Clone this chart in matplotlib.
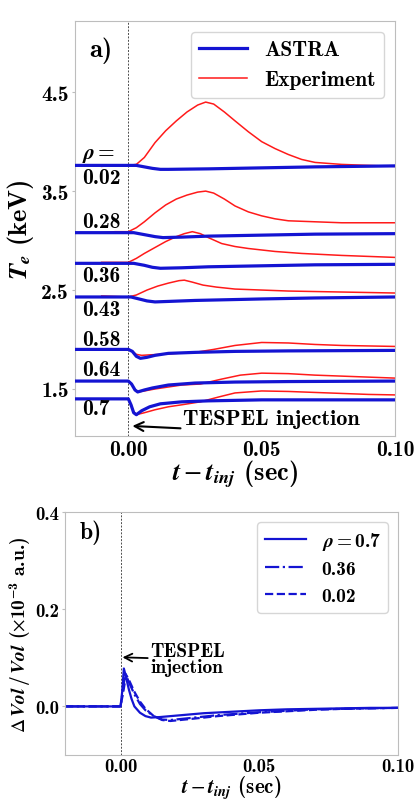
import matplotlib
matplotlib.use("Agg")
import matplotlib.pyplot as plt

plt.rcParams['font.family'] = ['cmb10', 'DejaVu Serif']
plt.rcParams['mathtext.fontset'] = 'custom'
plt.rcParams['mathtext.rm'] = 'cmb10'
plt.rcParams['mathtext.bf'] = 'cmb10'
plt.rcParams['mathtext.it'] = 'STIXGeneral:italic:bold'
plt.rcParams['mathtext.fallback'] = 'stix'
plt.rcParams['axes.unicode_minus'] = False

# ---------------- panel a) data ----------------
rho_labels = ["0.02", "0.28", "0.36", "0.43", "0.58", "0.64", "0.7"]

astra_t = {
    "0.02": [-0.02, 0.0, 0.003, 0.006, 0.009, 0.012, 0.015, 0.03, 0.05, 0.07, 0.1],
    "0.28": [-0.02, 0.0, 0.002, 0.006, 0.010, 0.013, 0.02, 0.03, 0.05, 0.07, 0.1],
    "0.36": [-0.02, 0.0, 0.002, 0.006, 0.009, 0.012, 0.02, 0.03, 0.05, 0.07, 0.1],
    "0.43": [-0.02, 0.0, 0.001, 0.004, 0.007, 0.010, 0.015, 0.025, 0.05, 0.07, 0.1],
    "0.58": [-0.02, 0.0, 0.0015, 0.003, 0.0045, 0.007, 0.010, 0.015, 0.025, 0.04, 0.06, 0.1],
    "0.64": [-0.02, 0.0, 0.0012, 0.0025, 0.0035, 0.006, 0.009, 0.015, 0.025, 0.04, 0.06, 0.1],
    "0.7":  [-0.02, 0.0, 0.001, 0.002, 0.003, 0.005, 0.008, 0.012, 0.02, 0.03, 0.05, 0.1],
}
astra_te = {
    "0.02": [3.76, 3.76, 3.76, 3.745, 3.73, 3.72, 3.72, 3.725, 3.735, 3.745, 3.755],
    "0.28": [3.08, 3.08, 3.08, 3.06, 3.04, 3.03, 3.035, 3.045, 3.055, 3.065, 3.07],
    "0.36": [2.77, 2.77, 2.77, 2.75, 2.73, 2.72, 2.725, 2.735, 2.745, 2.755, 2.76],
    "0.43": [2.43, 2.43, 2.43, 2.41, 2.39, 2.38, 2.385, 2.395, 2.41, 2.42, 2.43],
    "0.58": [1.90, 1.90, 1.88, 1.83, 1.81, 1.82, 1.84, 1.86, 1.87, 1.88, 1.885, 1.89],
    "0.64": [1.58, 1.58, 1.55, 1.49, 1.47, 1.49, 1.51, 1.54, 1.56, 1.57, 1.575, 1.58],
    "0.7":  [1.40, 1.40, 1.34, 1.26, 1.24, 1.28, 1.32, 1.35, 1.37, 1.38, 1.39, 1.39],
}

exp_t = {
    "0.02": [-0.01, -0.005, 0.0, 0.003, 0.006, 0.010, 0.014, 0.018, 0.022, 0.026, 0.029,
             0.032, 0.036, 0.040, 0.045, 0.050, 0.055, 0.060, 0.065, 0.070, 0.080, 0.090, 0.100],
    "0.28": [-0.01, -0.005, 0.0, 0.003, 0.006, 0.010, 0.014, 0.018, 0.022, 0.026, 0.029,
             0.032, 0.036, 0.040, 0.045, 0.050, 0.055, 0.060, 0.070, 0.080, 0.090, 0.100],
    "0.36": [-0.01, 0.0, 0.003, 0.006, 0.010, 0.014, 0.018, 0.021, 0.024, 0.027, 0.030,
             0.035, 0.040, 0.045, 0.055, 0.065, 0.080, 0.100],
    "0.43": [-0.01, 0.0, 0.003, 0.007, 0.011, 0.015, 0.019, 0.021, 0.024, 0.028, 0.033,
             0.040, 0.050, 0.060, 0.080, 0.100],
    "0.58": [-0.01, 0.0, 0.0015, 0.003, 0.005, 0.008, 0.012, 0.018, 0.025, 0.032, 0.040,
             0.050, 0.060, 0.070, 0.080, 0.090, 0.100],
    "0.64": [-0.01, 0.0, 0.0012, 0.0025, 0.0035, 0.006, 0.010, 0.015, 0.020, 0.027, 0.035,
             0.042, 0.050, 0.060, 0.070, 0.080, 0.090, 0.100],
    "0.7":  [-0.01, 0.0, 0.001, 0.002, 0.003, 0.006, 0.010, 0.015, 0.020, 0.027, 0.034,
             0.040, 0.050, 0.060, 0.070, 0.080, 0.090, 0.100],
}
exp_te = {
    "0.02": [3.75, 3.76, 3.76, 3.77, 3.84, 3.99, 4.11, 4.21, 4.30, 4.37, 4.40,
             4.38, 4.30, 4.21, 4.10, 4.00, 3.93, 3.87, 3.82, 3.79, 3.77, 3.76, 3.75],
    "0.28": [3.08, 3.09, 3.09, 3.13, 3.19, 3.28, 3.36, 3.42, 3.46, 3.49, 3.50,
             3.48, 3.42, 3.35, 3.29, 3.25, 3.22, 3.20, 3.19, 3.18, 3.18, 3.18],
    "0.36": [2.78, 2.78, 2.82, 2.87, 2.93, 2.99, 3.04, 3.07, 3.09, 3.07, 3.03,
             2.97, 2.94, 2.92, 2.89, 2.87, 2.85, 2.83],
    "0.43": [2.44, 2.43, 2.45, 2.50, 2.54, 2.57, 2.595, 2.60, 2.58, 2.55, 2.53,
             2.51, 2.50, 2.49, 2.48, 2.47],
    "0.58": [1.90, 1.90, 1.88, 1.85, 1.84, 1.845, 1.85, 1.86, 1.87, 1.90, 1.94,
             1.97, 1.965, 1.95, 1.94, 1.935, 1.93],
    "0.64": [1.58, 1.58, 1.55, 1.49, 1.47, 1.48, 1.50, 1.52, 1.54, 1.55, 1.60,
             1.64, 1.66, 1.655, 1.64, 1.63, 1.62, 1.61],
    "0.7":  [1.40, 1.40, 1.34, 1.27, 1.24, 1.26, 1.29, 1.32, 1.34, 1.37, 1.42,
             1.46, 1.48, 1.475, 1.465, 1.455, 1.445, 1.44],
}

# rho annotations (text, Te position)
label_text = ["$\\rho=$", "0.02", "0.28", "0.36", "0.43", "0.58", "0.64", "0.7"]
label_te = [3.87, 3.64, 3.19, 2.65, 2.30, 2.00, 1.695, 1.30]

# ---------------- panel b) data ----------------
vol_labels = ["$\\rho=0.7$", "0.36", "0.02"]
vol_styles = ["-", "-.", "--"]
vol_t = [
    [-0.02, 0.0, 0.0006, 0.0012, 0.002, 0.003, 0.004, 0.005, 0.007, 0.009, 0.011, 0.014,
     0.02, 0.03, 0.04, 0.05, 0.06, 0.07, 0.08, 0.09, 0.1],
    [-0.02, 0.0, 0.0008, 0.0017, 0.003, 0.005, 0.007, 0.009, 0.012, 0.015, 0.018, 0.025,
     0.035, 0.05, 0.06, 0.07, 0.08, 0.1],
    [-0.02, 0.0, 0.001, 0.002, 0.003, 0.005, 0.007, 0.009, 0.012, 0.015, 0.018, 0.025,
     0.035, 0.05, 0.06, 0.07, 0.08, 0.1],
]
vol_v = [
    [0.0, 0.0, 0.03, 0.078, 0.06, 0.035, 0.015, 0.0, -0.013, -0.02, -0.023, -0.022,
     -0.019, -0.014, -0.011, -0.008, -0.006, -0.005, -0.004, -0.003, -0.003],
    [0.0, 0.0, 0.03, 0.068, 0.05, 0.025, 0.005, -0.008, -0.02, -0.027, -0.028, -0.024,
     -0.018, -0.012, -0.009, -0.006, -0.005, -0.003],
    [0.0, 0.0, 0.03, 0.065, 0.055, 0.03, 0.01, -0.005, -0.02, -0.028, -0.03, -0.026,
     -0.02, -0.013, -0.01, -0.007, -0.005, -0.003],
]

blue = "#1414d2"
red = "#ff1a1a"
spine_c = "#bdbdbd"

fig = plt.figure(figsize=(4.2, 8.04), dpi=100)
axa = fig.add_axes([0.1786, 0.4565, 0.7619, 0.5162])
axb = fig.add_axes([0.1548, 0.0597, 0.7929, 0.3022])

# panel a
for i, key in enumerate(rho_labels):
    axa.plot(astra_t[key], astra_te[key], color=blue, lw=2.3,
             label="ASTRA" if i == 0 else None, zorder=3)
    axa.plot(exp_t[key], exp_te[key], color=red, lw=1.1,
             label="Experiment" if i == 0 else None, zorder=2)
for txt, te in zip(label_text, label_te):
    axa.text(-0.0172, te, txt, fontsize=15.5, va="center", ha="left")
axa.axvline(0.0, color="k", lw=0.7, ls=(0, (2, 1.5)), alpha=0.7, zorder=1)
axa.set_xlim(-0.02, 0.10)
axa.set_ylim(1.025, 5.22)
axa.set_xticks([0.0, 0.05, 0.10])
axa.set_xticklabels(["0.00", "0.05", "0.10"])
axa.set_yticks([1.5, 2.5, 3.5, 4.5])
axa.set_yticklabels(["1.5", "2.5", "3.5", "4.5"])
axa.tick_params(axis="y", length=2, width=0.8, color=spine_c, labelsize=15.5, pad=2.5)
axa.tick_params(axis="x", length=0, labelsize=15.5, pad=3)
axa.set_xlabel("$t-t_{inj}$ (sec)", fontsize=19, va="top")
axa.xaxis.set_label_coords(0.5, -0.052)
axa.set_ylabel("$T_e$ (keV)", fontsize=19)
axa.yaxis.set_label_coords(-0.122, 0.5)
axa.text(0.045, 0.93, "a)", transform=axa.transAxes, fontsize=19, va="center")
axa.annotate("TESPEL injection", xy=(0.0015, 1.126), xytext=(0.0206, 1.197),
             fontsize=16, va="center", ha="left",
             arrowprops=dict(arrowstyle="->", color="k", lw=1.5,
                             shrinkA=0, shrinkB=0, relpos=(0.0, 0.0)))
axa.legend(loc="upper right", fontsize=15.5, handlelength=2.2,
           borderaxespad=0.5, framealpha=0.8)
for sp in axa.spines.values():
    sp.set_color(spine_c)

# panel b
for t, v, ls, lab in zip(vol_t, vol_v, vol_styles, vol_labels):
    axb.plot(t, v, color=blue, lw=1.6, ls=ls, label=lab)
axb.axvline(0.0, color="k", lw=0.7, ls=(0, (2, 1.5)), alpha=0.7, zorder=1)
axb.set_xlim(-0.02, 0.10)
axb.set_ylim(-0.1, 0.4)
axb.set_xticks([0.0, 0.05, 0.10])
axb.set_xticklabels(["0.00", "0.05", "0.10"])
axb.set_yticks([0.0, 0.2, 0.4])
axb.set_yticklabels(["0.0", "0.2", "0.4"])
axb.tick_params(axis="y", length=2, width=0.8, color=spine_c, labelsize=13.5, pad=2)
axb.tick_params(axis="x", length=0, labelsize=13.5, pad=1.5)
axb.set_xlabel("$t-t_{inj}$ (sec)", fontsize=15, va="top")
axb.xaxis.set_label_coords(0.5, -0.077)
axb.set_ylabel("$\\Delta\\,Vol\\,/\\,Vol$ ($\\times10^{-3}$ a.u.)", fontsize=14)
axb.yaxis.set_label_coords(-0.095, 0.5)
axb.text(0.045, 0.92, "b)", transform=axb.transAxes, fontsize=17, va="center")
axb.annotate("TESPEL\ninjection", xy=(0.0007, 0.101), xytext=(0.0108, 0.097),
             fontsize=14, va="center", ha="left", linespacing=0.85,
             arrowprops=dict(arrowstyle="->", color="k", lw=1.3,
                             shrinkA=0, shrinkB=0))
axb.legend(loc="upper right", fontsize=14, handlelength=2.1, labelspacing=0.45,
           borderaxespad=0.5, framealpha=0.8)
for sp in axb.spines.values():
    sp.set_color(spine_c)

fig.savefig("out.png", dpi=100)
